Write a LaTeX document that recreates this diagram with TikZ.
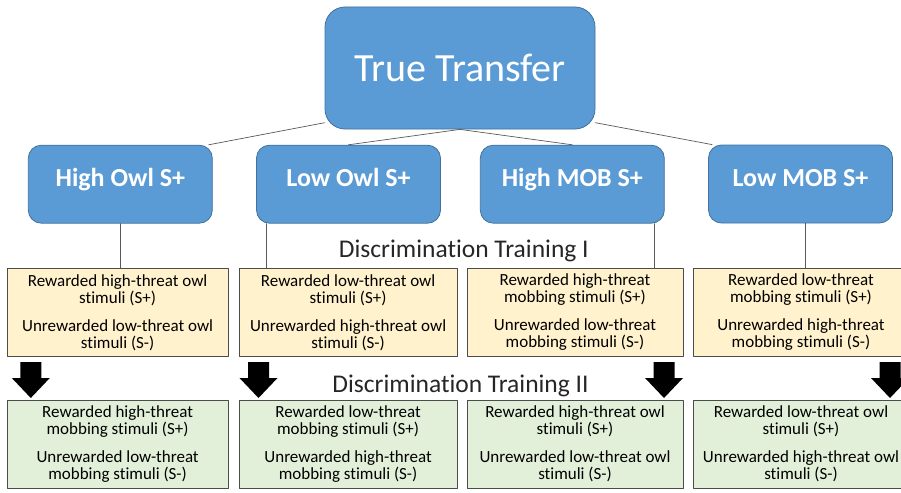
\documentclass[tikz,border=0pt]{standalone}
\usepackage{fontspec}
\setmainfont{Carlito}[Ligatures=NoCommon]
\usetikzlibrary{positioning}

\definecolor{boxblue}{HTML}{5B9BD5}
\definecolor{boxblueline}{HTML}{41719C}
\definecolor{stageyellow}{HTML}{FFF2CC}
\definecolor{stagegreen}{HTML}{E2F0D9}

\tikzset{
	topbox/.style={draw=boxblueline,fill=boxblue,line width=0.8pt,rounded corners=20pt,text=white,font=\fontsize{40}{44}\selectfont,minimum width=270pt,minimum height=122pt,inner sep=0pt},
	groupbox/.style={draw=boxblueline,fill=boxblue,line width=0.8pt,rounded corners=13pt,text=white,font=\bfseries\fontsize{26}{30}\selectfont,minimum width=184pt,minimum height=78pt,inner sep=0pt,text height=17pt,text depth=13pt},
	stagebox/.style={draw=black!70,line width=0.8pt,font=\fontsize{17}{17}\selectfont,align=center,minimum width=#1,minimum height=88pt,inner sep=0pt},
	stagetitle/.style={anchor=base,font=\fontsize{25.5}{28}\selectfont,text=black!85},
	link/.style={draw=black!65,line width=0.7pt},
	downarrow/.pic={\fill[black] (-10.5,0) -- (10.5,0) -- (10.5,16) -- (19,16) -- (0,36) -- (-19,16) -- (-10.5,16) -- cycle;}
}

\begin{document}
\begin{tikzpicture}[x=1pt,y=-1pt,line cap=round,line join=round]
				\useasboundingbox (0,0) rectangle (901,492);
				
				\node[topbox] (tt) at (460,68) {True Transfer};
				
				\node[groupbox] (hiowl) at (120.3,184.2) {High Owl S+};
				\node[groupbox] (loowl) at (348.5,184.2) {Low Owl S+};
				\node[groupbox] (himob) at (572.3,184.2) {High MOB S+};
				\node[groupbox] (lomob) at (800.5,184) {Low MOB S+};
				
				\node[stagetitle] (dtone) at (463.8,257.3) {Discrimination Training I};
				\node[stagetitle] (dttwo) at (460.5,392.3) {Discrimination Training II};
				
				\node[stagebox=221pt,fill=stageyellow] (yel1) at (117.6,312.5) {Rewarded high-threat owl\\ stimuli (S+)\\[11pt] Unrewarded low-threat owl\\ stimuli (S-)};
				\node[stagebox=218pt,fill=stageyellow] (yel2) at (348.1,312.5) {Rewarded low-threat owl\\ stimuli (S+)\\[11pt] Unrewarded high-threat owl\\ stimuli (S-)};
				\node[stagebox=216pt,fill=stageyellow] (yel3) at (575,312.5) {Rewarded high-threat\\ mobbing stimuli (S+)\\[11pt] Unrewarded low-threat\\ mobbing stimuli (S-)};
				\node[stagebox=216pt,fill=stageyellow] (yel4) at (801,312.5) {Rewarded low-threat\\ mobbing stimuli (S+)\\[11pt] Unrewarded high-threat\\ mobbing stimuli (S-)};
				
				\node[stagebox=221pt,fill=stagegreen] (grn1) at (117.6,444) {Rewarded high-threat\\ mobbing stimuli (S+)\\[11pt] Unrewarded low-threat\\ mobbing stimuli (S-)};
				\node[stagebox=218pt,fill=stagegreen] (grn2) at (348.1,444) {Rewarded low-threat\\ mobbing stimuli (S+)\\[11pt] Unrewarded high-threat\\ mobbing stimuli (S-)};
				\node[stagebox=216pt,fill=stagegreen] (grn3) at (575,444) {Rewarded high-threat owl\\ stimuli (S+)\\[11pt] Unrewarded low-threat owl\\ stimuli (S-)};
				\node[stagebox=216pt,fill=stagegreen] (grn4) at (801,444) {Rewarded low-threat owl\\ stimuli (S+)\\[11pt] Unrewarded high-threat owl\\ stimuli (S-)};
				
				\draw[link] (tt.202) -- ([xshift=-4pt]hiowl.north east);
				\draw[link] (tt.south) -- (loowl.north);
				\draw[link] (tt.south) -- (himob.north);
				\draw[link] (tt.-22) -- ([xshift=4pt]lomob.north west);
				
				\coordinate (loowlfoot) at ([xshift=10pt]loowl.south west);
				\coordinate (himobfoot) at ([xshift=-10.5pt]himob.south east);
				\coordinate (lomobfoot) at ([xshift=5pt]lomob.south);
				\draw[link] (hiowl.south) -- (hiowl.south |- yel1.north);
				\draw[link] (loowlfoot) -- (loowlfoot |- yel2.north);
				\draw[link] (himobfoot) -- (himobfoot |- yel3.north);
				\draw[link] (lomobfoot) -- (lomobfoot |- yel4.north);
				
				\pic at (30.8,362) {downarrow};
				\pic at (258.5,362) {downarrow};
				\pic at (664,362) {downarrow};
				\pic at (890,362) {downarrow};
\end{tikzpicture}
\end{document}
